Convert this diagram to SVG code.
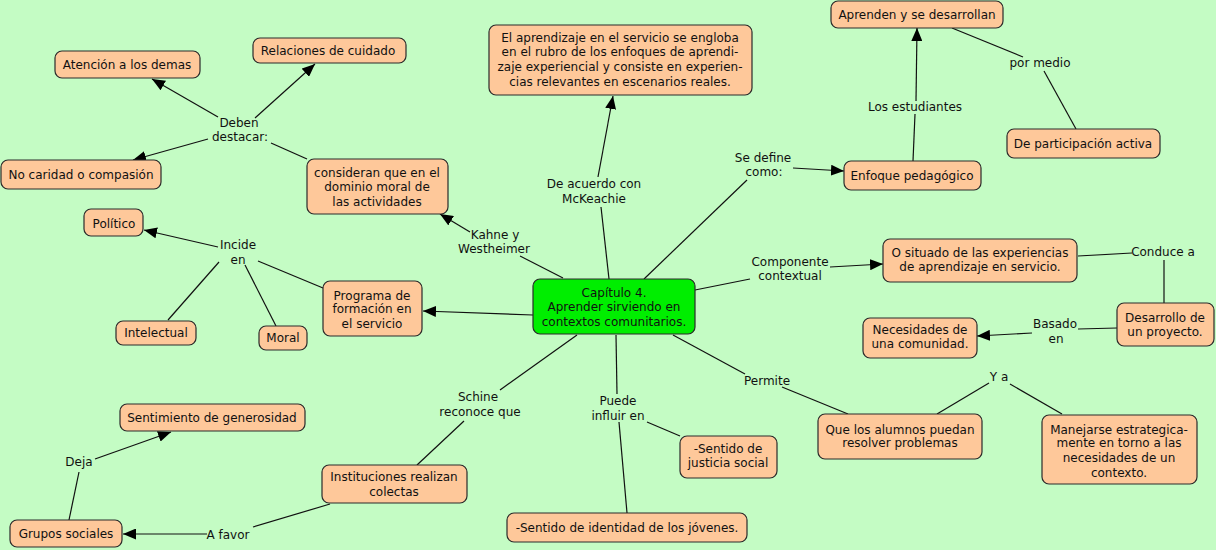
<svg xmlns="http://www.w3.org/2000/svg" width="1216" height="550" viewBox="0 0 1216 550">
<style>
.bg{fill:#c4fcc4}
.n rect{fill:#fec89a;stroke:#2a2a2a;stroke-width:1.2}
.c rect{fill:#00ee00;stroke:#2a2a2a;stroke-width:1.2}
text{font-family:"DejaVu Sans",Verdana,sans-serif;font-size:12px;fill:#111;text-anchor:middle}
.l line{stroke:#111;stroke-width:1.2}
</style>
<defs>
<marker id="a" markerUnits="userSpaceOnUse" markerWidth="13" markerHeight="11" refX="13" refY="5.5" orient="auto">
<path d="M0,0 L13,5.5 L0,11 z" fill="#000"/>
</marker>
</defs>
<rect class="bg" x="0" y="0" width="1216" height="550"/>
<g id="connectors" class="l">
<line x1="563" y1="278" x2="520" y2="256"/>
<line x1="470" y1="232" x2="440" y2="214" marker-end="url(#a)"/>
<line x1="307" y1="159" x2="271" y2="143"/>
<line x1="218" y1="117" x2="152" y2="79" marker-end="url(#a)"/>
<line x1="255" y1="118" x2="315" y2="64" marker-end="url(#a)"/>
<line x1="208" y1="139" x2="133" y2="160" marker-end="url(#a)"/>
<line x1="533" y1="315" x2="423" y2="311" marker-end="url(#a)"/>
<line x1="323" y1="288" x2="258" y2="261"/>
<line x1="218" y1="247" x2="144" y2="230" marker-end="url(#a)"/>
<line x1="219" y1="262" x2="168" y2="320"/>
<line x1="245" y1="265" x2="276" y2="326"/>
<line x1="609" y1="279" x2="601" y2="207"/>
<line x1="598" y1="177" x2="613" y2="96" marker-end="url(#a)"/>
<line x1="644" y1="279" x2="747" y2="180"/>
<line x1="793" y1="168" x2="844" y2="171" marker-end="url(#a)"/>
<line x1="913" y1="161" x2="915" y2="114"/>
<line x1="916" y1="101" x2="917" y2="28" marker-end="url(#a)"/>
<line x1="952" y1="28" x2="1023" y2="57"/>
<line x1="1044" y1="71" x2="1076" y2="129"/>
<line x1="695" y1="290" x2="750" y2="279"/>
<line x1="830" y1="267" x2="883" y2="264" marker-end="url(#a)"/>
<line x1="1078" y1="256" x2="1132" y2="253"/>
<line x1="1164" y1="260" x2="1164" y2="303"/>
<line x1="1117" y1="328" x2="1078" y2="329"/>
<line x1="1032" y1="333" x2="977" y2="336" marker-end="url(#a)"/>
<line x1="673" y1="335" x2="745" y2="374"/>
<line x1="782" y1="387" x2="848" y2="414"/>
<line x1="937" y1="414" x2="989" y2="383"/>
<line x1="1010" y1="384" x2="1062" y2="414"/>
<line x1="577" y1="335" x2="500" y2="390"/>
<line x1="464" y1="421" x2="417" y2="465"/>
<line x1="330" y1="504" x2="253" y2="527"/>
<line x1="207" y1="534" x2="123" y2="534" marker-end="url(#a)"/>
<line x1="69" y1="520" x2="79" y2="472"/>
<line x1="95" y1="459" x2="171" y2="432" marker-end="url(#a)"/>
<line x1="616" y1="335" x2="617" y2="394"/>
<line x1="619" y1="422" x2="627" y2="513"/>
<line x1="647" y1="422" x2="680" y2="436"/>
</g>
<g id="labels">
<text x="239" y="127">Deben</text><text x="240" y="141">destacar:</text>
<text x="495" y="239">Kahne y</text><text x="494" y="253">Westheimer</text>
<text x="594" y="188">De acuerdo con</text><text x="594" y="203">McKeachie</text>
<text x="763" y="162">Se define</text><text x="764" y="176">como:</text>
<text x="915" y="111">Los estudiantes</text>
<text x="1040" y="67">por medio</text>
<text x="238" y="249">Incide</text><text x="238" y="264">en</text>
<text x="790" y="266">Componente</text><text x="790" y="280">contextual</text>
<text x="1163" y="256">Conduce a</text>
<text x="1055" y="328">Basado</text><text x="1056" y="343">en</text>
<text x="767" y="385">Permite</text>
<text x="999" y="381">Y a</text>
<text x="478" y="401">Schine</text><text x="480" y="416">reconoce que</text>
<text x="618" y="405">Puede</text><text x="618" y="420">influir en</text>
<text x="79" y="466">Deja</text>
<text x="228" y="539">A favor</text>
</g>
<g id="center" class="c"><rect x="533" y="279" width="162" height="55" rx="7"/>
<text x="614" y="297">Capítulo 4.</text><text x="614" y="311">Aprender sirviendo en</text><text x="614" y="326">contextos comunitarios.</text></g>
<g id="atencion" class="n"><rect x="55" y="51" width="145" height="27" rx="7"/><text x="127" y="69">Atención a los demas</text></g>
<g id="relaciones" class="n"><rect x="253" y="38" width="153" height="25" rx="7"/><text x="328" y="55">Relaciones de cuidado</text></g>
<g id="nocaridad" class="n"><rect x="1" y="160" width="160" height="29" rx="7"/><text x="81" y="179">No caridad o compasión</text></g>
<g id="consideran" class="n"><rect x="307" y="159" width="141" height="55" rx="7"/>
<text x="377" y="177">consideran que en el</text><text x="377" y="191">dominio moral de</text><text x="377" y="206">las actividades</text></g>
<g id="politico" class="n"><rect x="84" y="209" width="59" height="27" rx="7"/><text x="114" y="228">Político</text></g>
<g id="intelectual" class="n"><rect x="116" y="321" width="80" height="24" rx="7"/><text x="156" y="337">Intelectual</text></g>
<g id="moral" class="n"><rect x="259" y="326" width="48" height="24" rx="7"/><text x="283" y="342">Moral</text></g>
<g id="programa" class="n"><rect x="323" y="281" width="99" height="55" rx="7"/>
<text x="372" y="300">Programa de</text><text x="372" y="313">formación en</text><text x="372" y="328">el servicio</text></g>
<g id="aprendizaje" class="n"><rect x="489" y="25" width="263" height="70" rx="7"/>
<text x="620" y="42">El aprendizaje en el servicio se engloba</text><text x="620" y="56">en el rubro de los enfoques de aprendi-</text><text x="620" y="71">zaje experiencial y consiste en experien-</text><text x="620" y="86">cias relevantes en escenarios reales.</text></g>
<g id="aprenden" class="n"><rect x="831" y="1" width="172" height="27" rx="7"/><text x="917" y="19">Aprenden y se desarrollan</text></g>
<g id="participacion" class="n"><rect x="1007" y="129" width="153" height="29" rx="7"/><text x="1083" y="148">De participación activa</text></g>
<g id="enfoque" class="n"><rect x="844" y="161" width="137" height="29" rx="7"/><text x="912" y="180">Enfoque pedagógico</text></g>
<g id="situado" class="n"><rect x="883" y="239" width="194" height="43" rx="7"/>
<text x="980" y="257">O situado de las experiencias</text><text x="980" y="271">de aprendizaje en servicio.</text></g>
<g id="desarrollo" class="n"><rect x="1117" y="303" width="97" height="43" rx="7"/>
<text x="1165" y="322">Desarrollo de</text><text x="1165" y="336">un proyecto.</text></g>
<g id="necesidades" class="n"><rect x="863" y="318" width="114" height="40" rx="7"/>
<text x="920" y="334">Necesidades de</text><text x="920" y="348">una comunidad.</text></g>
<g id="alumnos" class="n"><rect x="818" y="414" width="164" height="45" rx="7"/>
<text x="900" y="434">Que los alumnos puedan</text><text x="900" y="447">resolver problemas</text></g>
<g id="manejarse" class="n"><rect x="1042" y="415" width="155" height="69" rx="7"/>
<text x="1119" y="434">Manejarse estrategica-</text><text x="1119" y="447">mente en torno a las</text><text x="1119" y="462">necesidades de un</text><text x="1119" y="477">contexto.</text></g>
<g id="sentimiento" class="n"><rect x="120" y="404" width="185" height="27" rx="7"/><text x="212" y="422">Sentimiento de generosidad</text></g>
<g id="instituciones" class="n"><rect x="322" y="465" width="145" height="38" rx="7"/>
<text x="394" y="481">Instituciones realizan</text><text x="394" y="496">colectas</text></g>
<g id="grupos" class="n"><rect x="10" y="520" width="112" height="27" rx="7"/><text x="66" y="538">Grupos sociales</text></g>
<g id="identidad" class="n"><rect x="507" y="513" width="240" height="29" rx="7"/><text x="627" y="532">-Sentido de identidad de los jóvenes.</text></g>
<g id="justicia" class="n"><rect x="680" y="436" width="97" height="42" rx="7"/>
<text x="728" y="453">-Sentido de</text><text x="728" y="467">justicia social</text></g>
</svg>
